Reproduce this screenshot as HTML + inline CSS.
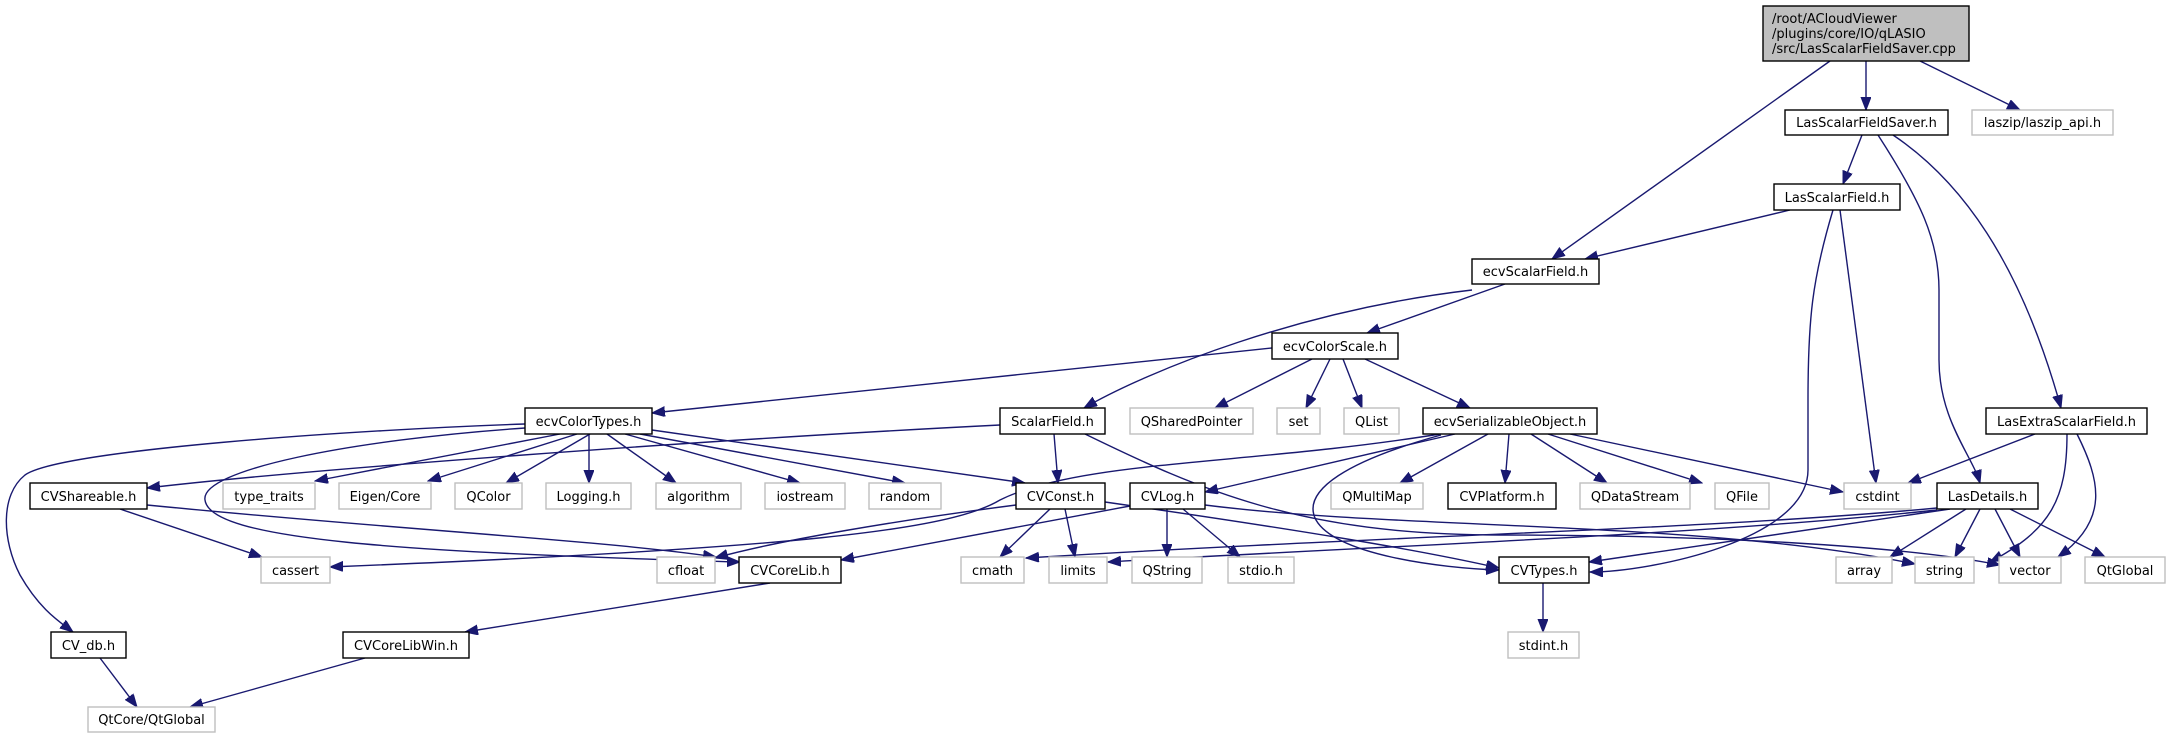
<!DOCTYPE html>
<html><head><meta charset="utf-8"><style>
html,body{margin:0;padding:0;background:#fff;}
svg{display:block;}
text{font-family:"DejaVu Sans","Liberation Sans",sans-serif;font-size:13px;fill:#000;}
.n{fill:#fff;stroke:#000;stroke-width:1.4;}
.g{fill:#fff;stroke:#bfbfbf;stroke-width:1.4;}
.e{fill:none;stroke:#191970;stroke-width:1.4;marker-end:url(#a);}
</style></head><body>
<svg width="2170" height="739" viewBox="0 0 2170 739" xmlns="http://www.w3.org/2000/svg">
<defs><marker id="a" markerUnits="userSpaceOnUse" markerWidth="14" markerHeight="12" refX="13" refY="5" orient="auto"><path d="M0,0 L13,5 L0,10 z" fill="#191970" stroke="#191970"/></marker></defs>
<g>
<path class="e" d="M1830,61 L1552,259"/>
<path class="e" d="M1866,61 L1866,110"/>
<path class="e" d="M1920,61 L2020,110"/>
<path class="e" d="M1862,135 L1843,184"/>
<path class="e" d="M1878,135 C1920,200 1939,240 1939,290 L1939,360 C1939,420 1972,455 1980,483"/>
<path class="e" d="M1893,135 C1960,180 2020,260 2061,408"/>
<path class="e" d="M1790,210 L1585,259"/>
<path class="e" d="M1833,210 C1812,280 1808,320 1808,400 L1808,470 C1808,540 1650,572 1590,572"/>
<path class="e" d="M1840,210 L1876,483"/>
<path class="e" d="M1505,284 L1367,333"/>
<path class="e" d="M1472,290 C1300,310 1150,370 1084,408"/>
<path class="e" d="M1272,348 L652,413"/>
<path class="e" d="M1312,359 L1215,408"/>
<path class="e" d="M1330,359 L1306,408"/>
<path class="e" d="M1343,359 L1362,408"/>
<path class="e" d="M1365,359 L1470,408"/>
<path class="e" d="M560,434 L315,481"/>
<path class="e" d="M577,434 L428,481"/>
<path class="e" d="M590,434 L506,483"/>
<path class="e" d="M589,434 L589,483"/>
<path class="e" d="M607,434 L676,483"/>
<path class="e" d="M625,434 L800,483"/>
<path class="e" d="M640,434 L905,483"/>
<path class="e" d="M652,430 L1025,483"/>
<path class="e" d="M525,424 C350,430 60,450 25,475 C0,495 2,540 20,575 C40,610 60,622 73,632"/>
<path class="e" d="M525,428 C350,440 200,470 205,500 C210,540 400,552 740,562"/>
<path class="e" d="M1000,425 C700,440 300,470 147,488"/>
<path class="e" d="M1054,434 L1058,483"/>
<path class="e" d="M1085,434 C1200,490 1300,535 1500,535 C1700,535 1900,545 2000,565"/>
<path class="e" d="M120,509 L262,557"/>
<path class="e" d="M147,505 C400,530 600,540 716,557"/>
<path class="e" d="M1440,434 C1250,465 1080,460 1000,500 C950,530 800,548 330,567"/>
<path class="e" d="M1455,434 L1205,492"/>
<path class="e" d="M1441,435 C1350,460 1300,490 1316,520 C1336,555 1440,568 1499,570"/>
<path class="e" d="M1488,434 L1400,483"/>
<path class="e" d="M1509,434 L1505,483"/>
<path class="e" d="M1531,434 L1607,483"/>
<path class="e" d="M1548,434 L1702,483"/>
<path class="e" d="M1570,434 L1843,492"/>
<path class="e" d="M2035,434 L1908,483"/>
<path class="e" d="M2067,434 C2067,500 2050,530 1990,562"/>
<path class="e" d="M2077,434 C2100,480 2110,520 2058,557"/>
<path class="e" d="M1016,505 C900,520 780,540 715,558"/>
<path class="e" d="M1050,509 L1000,557"/>
<path class="e" d="M1065,509 L1075,557"/>
<path class="e" d="M1105,502 C1300,530 1420,550 1499,568"/>
<path class="e" d="M1130,506 L841,560"/>
<path class="e" d="M1167,509 L1167,557"/>
<path class="e" d="M1183,509 L1240,557"/>
<path class="e" d="M1205,505 C1400,530 1700,520 1915,564"/>
<path class="e" d="M770,583 L465,632"/>
<path class="e" d="M365,658 L190,707"/>
<path class="e" d="M100,658 L137,707"/>
<path class="e" d="M1543,583 L1543,632"/>
<path class="e" d="M1937,508 C1700,530 1400,535 1026,558"/>
<path class="e" d="M1937,510 C1700,535 1400,545 1108,562"/>
<path class="e" d="M1950,509 L1589,562"/>
<path class="e" d="M1966,509 L1890,557"/>
<path class="e" d="M1980,509 L1955,557"/>
<path class="e" d="M1995,509 L2020,557"/>
<path class="e" d="M2010,509 L2105,557"/>
</g>
<g>
<rect x="1763" y="6" width="206" height="55" fill="#bfbfbf" stroke="#000" stroke-width="1.4"/>
<text x="1772" y="23">/root/ACloudViewer</text>
<text x="1772" y="38">/plugins/core/IO/qLASIO</text>
<text x="1772" y="53">/src/LasScalarFieldSaver.cpp</text>
<rect class="n" x="1785" y="110" width="163" height="25"/><text x="1866.5" y="127" text-anchor="middle">LasScalarFieldSaver.h</text>
<rect class="g" x="1972" y="110" width="141" height="25"/><text x="2042.5" y="127" text-anchor="middle">laszip/laszip_api.h</text>
<rect class="n" x="1774" y="184" width="126" height="26"/><text x="1837" y="202" text-anchor="middle">LasScalarField.h</text>
<rect class="n" x="1472" y="259" width="127" height="25"/><text x="1535.5" y="276" text-anchor="middle">ecvScalarField.h</text>
<rect class="n" x="1272" y="333" width="126" height="26"/><text x="1335" y="351" text-anchor="middle">ecvColorScale.h</text>
<rect class="n" x="525" y="408" width="127" height="26"/><text x="588.5" y="426" text-anchor="middle">ecvColorTypes.h</text>
<rect class="n" x="1000" y="408" width="105" height="26"/><text x="1052.5" y="426" text-anchor="middle">ScalarField.h</text>
<rect class="g" x="1130" y="408" width="123" height="26"/><text x="1191.5" y="426" text-anchor="middle">QSharedPointer</text>
<rect class="g" x="1277" y="408" width="43" height="26"/><text x="1298.5" y="426" text-anchor="middle">set</text>
<rect class="g" x="1344" y="408" width="55" height="26"/><text x="1371.5" y="426" text-anchor="middle">QList</text>
<rect class="n" x="1423" y="408" width="174" height="26"/><text x="1510" y="426" text-anchor="middle">ecvSerializableObject.h</text>
<rect class="n" x="1986" y="408" width="161" height="26"/><text x="2066.5" y="426" text-anchor="middle">LasExtraScalarField.h</text>
<rect class="n" x="30" y="483" width="117" height="26"/><text x="88.5" y="501" text-anchor="middle">CVShareable.h</text>
<rect class="g" x="223" y="483" width="92" height="26"/><text x="269" y="501" text-anchor="middle">type_traits</text>
<rect class="g" x="339" y="483" width="92" height="26"/><text x="385" y="501" text-anchor="middle">Eigen/Core</text>
<rect class="g" x="455" y="483" width="67" height="26"/><text x="488.5" y="501" text-anchor="middle">QColor</text>
<rect class="g" x="546" y="483" width="85" height="26"/><text x="588.5" y="501" text-anchor="middle">Logging.h</text>
<rect class="g" x="656" y="483" width="85" height="26"/><text x="698.5" y="501" text-anchor="middle">algorithm</text>
<rect class="g" x="765" y="483" width="80" height="26"/><text x="805" y="501" text-anchor="middle">iostream</text>
<rect class="g" x="869" y="483" width="72" height="26"/><text x="905" y="501" text-anchor="middle">random</text>
<rect class="n" x="1016" y="483" width="89" height="26"/><text x="1060.5" y="501" text-anchor="middle">CVConst.h</text>
<rect class="n" x="1130" y="483" width="75" height="26"/><text x="1167.5" y="501" text-anchor="middle">CVLog.h</text>
<rect class="g" x="1331" y="483" width="92" height="26"/><text x="1377" y="501" text-anchor="middle">QMultiMap</text>
<rect class="n" x="1448" y="483" width="108" height="26"/><text x="1502" y="501" text-anchor="middle">CVPlatform.h</text>
<rect class="g" x="1580" y="483" width="110" height="26"/><text x="1635" y="501" text-anchor="middle">QDataStream</text>
<rect class="g" x="1715" y="483" width="54" height="26"/><text x="1742" y="501" text-anchor="middle">QFile</text>
<rect class="g" x="1844" y="483" width="67" height="26"/><text x="1877.5" y="501" text-anchor="middle">cstdint</text>
<rect class="n" x="1937" y="483" width="101" height="26"/><text x="1987.5" y="501" text-anchor="middle">LasDetails.h</text>
<rect class="g" x="261" y="557" width="69" height="26"/><text x="295.5" y="575" text-anchor="middle">cassert</text>
<rect class="g" x="657" y="557" width="58" height="26"/><text x="686" y="575" text-anchor="middle">cfloat</text>
<rect class="n" x="739" y="557" width="102" height="26"/><text x="790" y="575" text-anchor="middle">CVCoreLib.h</text>
<rect class="g" x="961" y="557" width="63" height="26"/><text x="992.5" y="575" text-anchor="middle">cmath</text>
<rect class="g" x="1049" y="557" width="58" height="26"/><text x="1078" y="575" text-anchor="middle">limits</text>
<rect class="g" x="1132" y="557" width="70" height="26"/><text x="1167" y="575" text-anchor="middle">QString</text>
<rect class="g" x="1228" y="557" width="66" height="26"/><text x="1261" y="575" text-anchor="middle">stdio.h</text>
<rect class="n" x="1499" y="557" width="90" height="26"/><text x="1544" y="575" text-anchor="middle">CVTypes.h</text>
<rect class="g" x="1836" y="557" width="56" height="26"/><text x="1864" y="575" text-anchor="middle">array</text>
<rect class="g" x="1915" y="557" width="59" height="26"/><text x="1944.5" y="575" text-anchor="middle">string</text>
<rect class="g" x="1999" y="557" width="62" height="26"/><text x="2030" y="575" text-anchor="middle">vector</text>
<rect class="g" x="2085" y="557" width="80" height="26"/><text x="2125" y="575" text-anchor="middle">QtGlobal</text>
<rect class="n" x="51" y="632" width="75" height="26"/><text x="88.5" y="650" text-anchor="middle">CV_db.h</text>
<rect class="n" x="343" y="632" width="126" height="26"/><text x="406" y="650" text-anchor="middle">CVCoreLibWin.h</text>
<rect class="g" x="1508" y="632" width="71" height="26"/><text x="1543.5" y="650" text-anchor="middle">stdint.h</text>
<rect class="g" x="88" y="707" width="127" height="25"/><text x="151.5" y="724" text-anchor="middle">QtCore/QtGlobal</text>
</g>
</svg>
</body></html>
